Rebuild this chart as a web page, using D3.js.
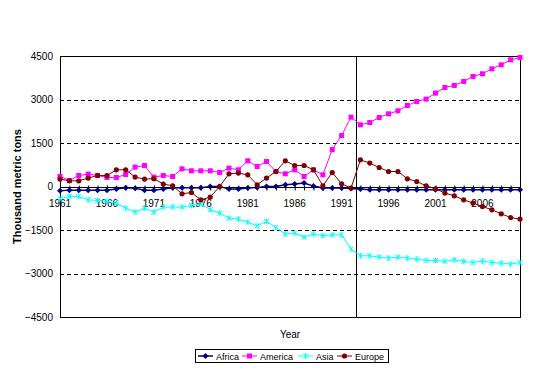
<!DOCTYPE html>
<html>
<head>
<meta charset="utf-8">
<script src="https://cdn.jsdelivr.net/npm/d3@7"></script>
<style>
  body { margin: 0; background: #fff; }
  svg { font-family: "Liberation Sans", Arial, sans-serif; }
</style>
</head>
<body>
<div id="chart"></div>
<script>
// 数据
const years = d3.range(1961, 2011);
const yTicks = [-4500, -3000, -1500, 0, 1500, 3000, 4500];
const xTickYears = [1961, 1966, 1971, 1976, 1981, 1986, 1991, 1996, 2001, 2006];

const africa = [-150, -125, -125, -125, -125, -125, -90, -45, -60, -125,
                -125, -90, -45, -45, -45, -45, 0, 0, -90, -90,
                -55, -33, 0, 0, 59, 83, 117, 14, -55, -55,
                -55, -70, -90, -115, -115, -115, -115, -115, -115, -115,
                -115, -115, -115, -115, -115, -115, -115, -115, -115, -115];
const america = [345, 207, 380, 427, 380, 310, 310, 414, 669, 724,
                 324, 380, 345, 610, 541, 541, 541, 483, 634, 576,
                 886, 690, 862, 517, 438, 576, 345, 576, 403, 1274,
                 1759, 2392, 2127, 2207, 2380, 2507, 2610, 2794, 2932, 3013,
                 3220, 3415, 3484, 3622, 3795, 3886, 4058, 4196, 4368, 4448];
const asia = [-420, -345, -345, -459, -483, -517, -572, -745, -883, -745,
              -883, -710, -710, -710, -655, -597, -803, -917, -1090, -1124,
              -1228, -1355, -1207, -1414, -1641, -1607, -1745, -1641, -1700, -1665,
              -1665, -2159, -2390, -2390, -2434, -2469, -2434, -2469, -2503, -2552,
              -2552, -2586, -2528, -2586, -2621, -2570, -2621, -2641, -2676, -2621];
const europe = [255, 197, 197, 290, 380, 380, 576, 576, 324, 255,
                270, 83, 24, -252, -207, -459, -366, 0, 438, 462,
                403, 59, 290, 517, 886, 724, 724, 576, 24, 483,
                93, -55, 920, 807, 655, 517, 517, 266, 172, 24,
                -79, -228, -321, -459, -572, -690, -803, -941, -1069, -1124];

const series = [
  { name: "Africa", values: africa, color: "#000080", marker: "diamond", width: 1.5 },
  { name: "America", values: america, color: "#FF00FF", marker: "square", width: 1 },
  { name: "Asia", values: asia, color: "#00FFFF", marker: "star", width: 1 },
  { name: "Europe", values: europe, color: "#800000", marker: "circle", width: 1 }
];

const width = 541;
const height = 370;
const plot = { left: 60, right: 520, top: 56, bottom: 317 };

const svg = d3.select("#chart")
    .append("svg")
    .attr("width", width)
    .attr("height", height);

// 比例尺
const xScale = d3.scalePoint()
    .domain(years)
    .range([plot.left, plot.right]);

const yScale = d3.scaleLinear()
    .domain([-4500, 4500])
    .range([plot.bottom, plot.top]);

// 网格线
svg.append("g")
    .selectAll("line")
    .data(yTicks.filter(d => d !== 0 && Math.abs(d) !== 4500))
    .enter()
    .append("line")
    .attr("x1", plot.left)
    .attr("x2", plot.right)
    .attr("y1", d => Math.round(yScale(d)) + 0.5)
    .attr("y2", d => Math.round(yScale(d)) + 0.5)
    .attr("stroke", "#000")
    .attr("stroke-dasharray", "4,3");

// 绘图区边框
svg.append("rect")
    .attr("x", plot.left + 0.5)
    .attr("y", plot.top + 0.5)
    .attr("width", plot.right - plot.left)
    .attr("height", plot.bottom - plot.top)
    .attr("fill", "none")
    .attr("stroke", "#000");

// Y轴
const yAxis = svg.append("g")
    .attr("transform", "translate(" + plot.left + ",0)")
    .call(d3.axisLeft(yScale).tickValues(yTicks).tickSize(0).tickPadding(7).tickFormat(d3.format("d")));
yAxis.select(".domain").remove();
yAxis.selectAll("text").attr("font-size", "10px").attr("fill", "#000")
    .attr("font-family", "Liberation Sans, Arial, sans-serif");

// X轴 (在零线上)
const zeroY = Math.round(yScale(0)) + 0.5;
const xAxis = svg.append("g")
    .attr("transform", "translate(0," + zeroY + ")")
    .call(d3.axisBottom(xScale).tickValues(years).tickSize(3).tickSizeOuter(0).tickFormat(""));
xAxis.select(".domain").attr("stroke", "#000").attr("d", "M" + plot.left + ",0H" + plot.right);
xAxis.selectAll(".tick line").attr("y1", -2).attr("y2", 3);

svg.append("g")
    .selectAll("text")
    .data(xTickYears)
    .enter()
    .append("text")
    .attr("x", d => xScale(d))
    .attr("y", zeroY + 19)
    .attr("text-anchor", "middle")
    .attr("font-size", "10px")
    .text(d => d);

// 分隔竖线 1992/1993
const splitX = Math.round(xScale(1992) + xScale.step() / 2) + 0.5;
svg.append("line")
    .attr("x1", splitX).attr("x2", splitX)
    .attr("y1", plot.top).attr("y2", plot.bottom)
    .attr("stroke", "#000");

// 标记
function drawMarker(sel, type, color) {
    if (type === "diamond") {
        sel.append("path").attr("d", "M0,-3L3,0L0,3L-3,0Z").attr("fill", color);
    } else if (type === "square") {
        sel.append("rect").attr("x", -2.5).attr("y", -2.5).attr("width", 5).attr("height", 5).attr("fill", color);
    } else if (type === "star") {
        sel.append("path").attr("d", "M-2.5,-2.5L2.5,2.5M-2.5,2.5L2.5,-2.5M0,-3V3")
            .attr("stroke", color).attr("stroke-width", 1).attr("fill", "none");
    } else {
        sel.append("circle").attr("r", 2.6).attr("fill", color);
    }
}

// 折线生成器
const line = d3.line()
    .x((d, i) => xScale(years[i]))
    .y(d => yScale(d));

series.forEach(s => {
    const g = svg.append("g");
    g.append("path")
        .datum(s.values)
        .attr("fill", "none")
        .attr("stroke", s.color)
        .attr("stroke-width", s.width)
        .attr("d", line);
    g.selectAll("g.pt")
        .data(s.values)
        .enter()
        .append("g")
        .attr("class", "pt")
        .attr("transform", (d, i) => "translate(" + xScale(years[i]) + "," + yScale(d) + ")")
        .each(function() { drawMarker(d3.select(this), s.marker, s.color); });
});

// Y轴标题
svg.append("text")
    .attr("transform", "translate(21," + (plot.top + plot.bottom) / 2 + ") rotate(-90)")
    .attr("text-anchor", "middle")
    .attr("font-size", "11px")
    .attr("font-weight", "bold")
    .text("Thousand metric tons");

// X轴标题
svg.append("text")
    .attr("x", 290)
    .attr("y", 338)
    .attr("text-anchor", "middle")
    .attr("font-size", "10px")
    .text("Year");

// 图例
const legend = svg.append("g");
legend.append("rect")
    .attr("x", 195.5).attr("y", 349.5)
    .attr("width", 193).attr("height", 13)
    .attr("fill", "#fff").attr("stroke", "#000");
const legendX = [198, 242, 298, 337];
series.forEach((s, i) => {
    const g = legend.append("g").attr("transform", "translate(" + legendX[i] + ",356)");
    g.append("line").attr("x1", 0).attr("x2", 15).attr("stroke", s.color).attr("stroke-width", s.width);
    drawMarker(g.append("g").attr("transform", "translate(7.5,0)"), s.marker, s.color);
    g.append("text").attr("x", 18).attr("y", 3.5).attr("font-size", "9px").text(s.name);
});
</script>
</body>
</html>
